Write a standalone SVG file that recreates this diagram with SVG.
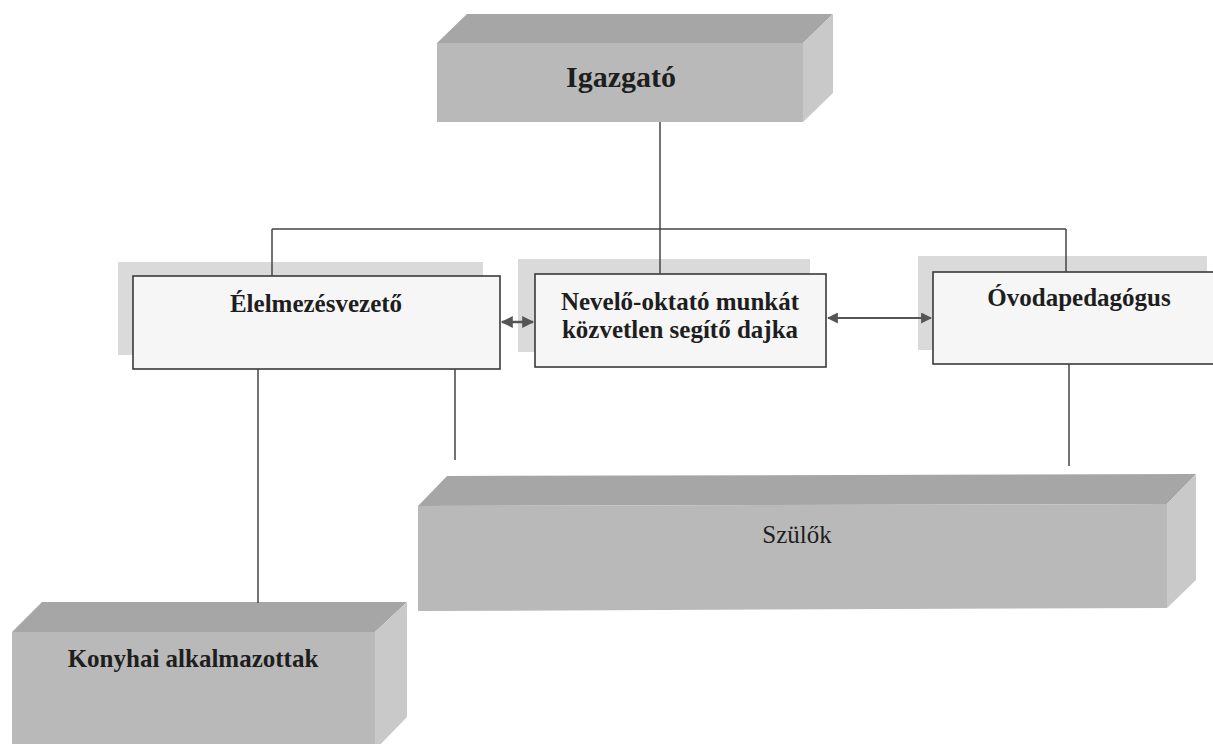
<svg xmlns="http://www.w3.org/2000/svg" width="1213" height="744" viewBox="0 0 1213 744">
<style>
.top{fill:#a6a6a6}
.front{fill:#b9b9b9}
.side{fill:#c9c9c9}
.shadow{fill:#dadada}
.box{fill:#f6f6f6;stroke:#3a3a3a;stroke-width:1.6}
.t{font-family:"Liberation Serif",Tinos,"Times New Roman",Times,"DejaVu Serif",serif;font-size:25px;fill:#1e1e1e;text-anchor:middle}
.b{font-weight:bold}
.ln{stroke:#444;stroke-width:1.5;fill:none}
</style>
<defs>
<marker id="ah" viewBox="0 0 10 10" refX="9" refY="5" markerWidth="11" markerHeight="11" markerUnits="userSpaceOnUse" orient="auto-start-reverse">
<path d="M0,0 L10,5 L0,10 z" fill="#555"/>
</marker>
<marker id="ahb" viewBox="0 0 10 10" refX="9" refY="5" markerWidth="13" markerHeight="12" markerUnits="userSpaceOnUse" orient="auto-start-reverse">
<path d="M0,0 L10,5 L0,10 z" fill="#555"/>
</marker>
</defs>
<rect width="1213" height="744" fill="#fff"/>
<g id="igazgato">
<polygon class="top" points="437,43 467,14 833,14 803,43"/>
<polygon class="side" points="803,43 833,14 833,93 803,122"/>
<rect class="front" x="437" y="43" width="366" height="79"/>
<text class="t b" x="621" y="87" style="font-size:30px">Igazgató</text>
</g>
<g id="elelmezesvezeto">
<rect class="shadow" x="118" y="262" width="365" height="93"/>
<rect class="box" x="133" y="276" width="367" height="93"/>
<text class="t b" x="316" y="312">Élelmezésvezető</text>
</g>
<g id="nevelo">
<rect class="shadow" x="518" y="259" width="292" height="93"/>
<rect class="box" x="535" y="274" width="291" height="93"/>
<text class="t b" x="680" y="310">Nevelő-oktató munkát</text>
<text class="t b" x="680" y="338">közvetlen segítő dajka</text>
</g>
<g id="ovodapedagogus">
<rect class="shadow" x="918" y="256" width="289" height="94"/>
<rect class="box" x="933" y="272" width="285" height="92"/>
<text class="t b" x="1079" y="306">Óvodapedagógus</text>
</g>
<g id="szulok">
<polygon class="top" points="418,506 447,476 1196,474 1167,504"/>
<polygon class="side" points="1167,504 1196,474 1196,580 1167,608"/>
<polygon class="front" points="418,506 1167,504 1167,608 418,611"/>
<text class="t" x="797" y="543">Szülők</text>
</g>
<g id="konyhai">
<polygon class="top" points="12,632 42,602 407,602 375,632"/>
<polygon class="side" points="375,632 407,602 407,717 375,750"/>
<rect class="front" x="12" y="632" width="363" height="120"/>
<text class="t b" x="193" y="667">Konyhai alkalmazottak</text>
</g>
<g id="connectors">
<line class="ln" x1="660" y1="122" x2="660" y2="274"/>
<line class="ln" x1="272" y1="229" x2="1066" y2="229"/>
<line class="ln" x1="272" y1="229" x2="272" y2="276"/>
<line class="ln" x1="1066" y1="229" x2="1066" y2="272"/>
<line class="ln" x1="258" y1="369" x2="258" y2="603"/>
<line class="ln" x1="455" y1="369" x2="455" y2="460"/>
<line class="ln" x1="1069" y1="364" x2="1069" y2="466"/>
<line class="ln" style="stroke:#555;stroke-width:2.5" x1="502" y1="322" x2="533" y2="322" marker-start="url(#ahb)" marker-end="url(#ahb)"/>
<line class="ln" style="stroke:#555;stroke-width:2" x1="828" y1="318" x2="931" y2="318" marker-start="url(#ah)" marker-end="url(#ah)"/>
</g>
</svg>
